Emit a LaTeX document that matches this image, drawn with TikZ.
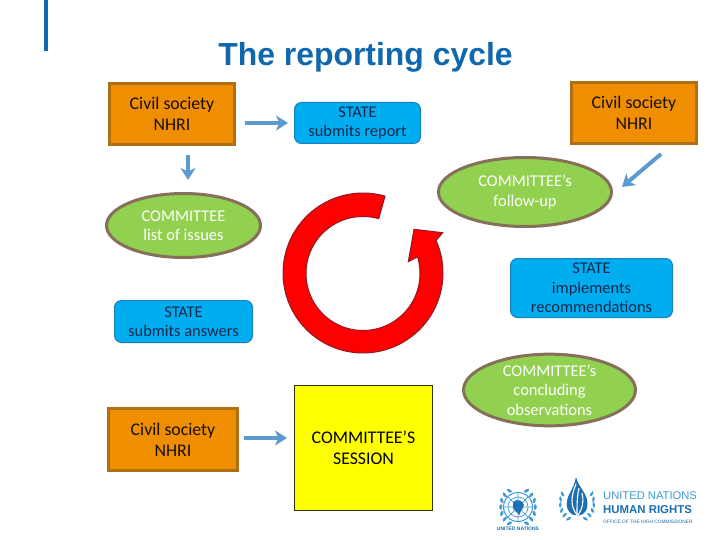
\documentclass[tikz,border=0pt]{standalone}
\usepackage{fontspec}
\setmainfont{Carlito}
\newfontfamily\titlefont{Liberation Sans}
\newfontfamily\logofont{Liberation Sans}
\usetikzlibrary{shapes.geometric,arrows.meta}
\definecolor{orangefill}{HTML}{EE8E00}
\definecolor{orangeedge}{HTML}{B06F14}
\definecolor{bluefill}{HTML}{00ADEF}
\definecolor{blueedge}{HTML}{1B7FC0}
\definecolor{greenfill}{HTML}{92D050}
\definecolor{greenedge}{HTML}{85705A}
\definecolor{arrowblue}{HTML}{5B9BD0}
\definecolor{titleblue}{HTML}{0F68AE}
\definecolor{ringedge}{HTML}{8E1C28}
\definecolor{ringred}{HTML}{FF0000}
\definecolor{sessionyellow}{HTML}{FFFF00}
\definecolor{navytext}{HTML}{14264E}
\definecolor{unblue}{HTML}{3D9AD6}
\definecolor{undark}{HTML}{1C6FB0}
\tikzset{
  lab/.style={font=\fontsize{16.4}{19.5}\selectfont,align=center},
  biglab/.style={font=\fontsize{17.8}{20.8}\selectfont,align=center},
  civil/.style={biglab,draw=orangeedge,fill=orangefill,line width=3pt,inner sep=0pt,text=black!90!orangefill},
  statebox/.style={lab,draw=blueedge,fill=bluefill,line width=1pt,rounded corners=7pt,inner sep=0pt,text=navytext},
  oval/.style={lab,ellipse,draw=greenedge,fill=greenfill,line width=3pt,inner sep=0pt,text=white},
  session/.style={biglab,draw=black!80!sessionyellow,fill=sessionyellow,line width=1pt,inner sep=0pt,text=black},
  flow/.style={draw=arrowblue,line width=4pt,-{Stealth[length=12pt,width=15pt,inset=3.5pt]}},
  wreathleaf/.style={fill=unblue,draw=none},
}
\begin{document}
\begin{tikzpicture}[x=1pt,y=-1pt]
\useasboundingbox (0,0) rectangle (720,540);
\fill[white] (0,0) rectangle (720,540);
\fill[titleblue] (44,0) rectangle (47.5,51);
\node[font=\titlefont\bfseries\fontsize{31.9}{34}\selectfont,text=titleblue,inner sep=0pt] (title) at (365.5,57) {The reporting cycle};

% cycle ring
\draw[draw=ringedge,fill=ringred,line width=1pt]
  plot[domain=74:384,samples=90] ({363+80*cos(\x)},{273-80*sin(\x)})
  -- (442.7,232.7) -- (414,229.3) -- (408.3,261.7) -- (416.7,257.3)
  -- plot[domain=376.6:74,samples=90] ({363+57*cos(\x)},{273.5-57*sin(\x)}) -- cycle;

\node[civil,minimum width=125pt,minimum height=61pt] (civilA) at (172,114) {Civil society\\NHRI};
\node[statebox,minimum width=126pt,minimum height=41pt] (stateA) at (357.5,123) {STATE\\submits report};
\node[oval,minimum width=154pt,minimum height=64pt] (ovalA) at (183.5,225.5) {COMMITTEE\\list of issues};
\node[civil,minimum width=125pt,minimum height=61pt] (civilB) at (634,113) {Civil society\\NHRI};
\node[oval,minimum width=173pt,minimum height=69pt] (ovalB) at (525,192) {COMMITTEE’s\\follow-up};
\node[statebox,minimum width=162pt,minimum height=59pt] (stateB) at (591.5,288) {STATE\\implements\\recommendations};
\node[statebox,minimum width=138pt,minimum height=42pt] (stateC) at (183.5,321.5) {STATE\\submits answers};
\node[oval,minimum width=172pt,minimum height=69pt] (ovalC) at (549.5,390) {COMMITTEE’s\\concluding\\observations};
\node[civil,minimum width=129pt,minimum height=62pt] (civilC) at (173,439.5) {Civil society\\NHRI};
\node[session,minimum width=138pt,minimum height=125pt] (sessionBox) at (363.5,447.5) {COMMITTEE’S\\SESSION};

\draw[flow] ([xshift=9pt,yshift=-9pt]civilA.east) -- ([xshift=-6pt]stateA.west);
\draw[flow] ([xshift=16pt,yshift=-9pt]civilA.south) -- ([xshift=4.5pt,yshift=12pt]ovalA.north);
\draw[flow] ([xshift=27pt,yshift=-9pt]civilB.south) -- ([xshift=9pt,yshift=5pt]ovalB.east);
\draw[flow] ([xshift=5pt,yshift=1.5pt]civilC.east) -- ([xshift=-7pt,yshift=9.5pt]sessionBox.west);

% UN emblem
\begin{scope}[shift={(518,507)}]
  \draw[unblue,line width=1pt] (0,0) circle (14.5);
  \draw[unblue,line width=.7pt] (0,0) circle (10) (0,0) circle (5);
  \draw[unblue,line width=.7pt] (-14.5,0) -- (14.5,0) (0,-14.5) -- (0,14.5) (-10,-10) -- (10,10) (-10,10) -- (10,-10);
  \fill[undark] (-5,-5) .. controls (0,-9) and (5,-6) .. (6,-2) .. controls (4,2) and (2,4) .. (2,8) .. controls (-2,5) and (-6,2) .. (-5,-5);
  \foreach \a in {-60,-40,...,60} {
    \fill[wreathleaf,shift={({18*cos(\a)},{18*sin(\a)})},rotate=\a] (-1.3,-3) .. controls (1.5,-2) and (1.5,2) .. (-1.3,3) .. controls (-2.6,1) and (-2.6,-1) .. (-1.3,-3);
    \fill[wreathleaf,shift={({-18*cos(\a)},{18*sin(\a)})},rotate=-\a] (1.3,-3) .. controls (-1.5,-2) and (-1.5,2) .. (1.3,3) .. controls (2.6,1) and (2.6,-1) .. (1.3,-3);
  }
\end{scope}
\node[font=\logofont\bfseries\fontsize{5}{5}\selectfont,text=undark,inner sep=0pt] (unname) at (518,529) {UNITED NATIONS};

% UN Human Rights flame and wreath
\begin{scope}[shift={(577,500)}]
  \fill[undark] (-1,-23) .. controls (1,-12) and (13,-6) .. (10,8) .. controls (8,15) and (2,16) .. (0,15) .. controls (-3,16) and (-8,14) .. (-10,7) .. controls (-12,-4) and (-3,-10) .. (-1,-23);
  \draw[white,line width=1.1pt] (0,15) .. controls (-7,6) and (-6,-4) .. (-1,-16);
  \draw[white,line width=1.1pt] (0,15) .. controls (0,6) and (0,-4) .. (2,-12);
  \draw[white,line width=1.1pt] (1,15) .. controls (6,8) and (7,0) .. (5,-7);
  \foreach \a in {-30,-12,...,60} {
    \fill[wreathleaf,shift={({17.5*cos(\a)},{3+17.5*sin(\a)})},rotate=\a] (-1.1,-3) .. controls (1.2,-2) and (1.2,2) .. (-1.1,3) .. controls (-2.2,1) and (-2.2,-1) .. (-1.1,-3);
    \fill[wreathleaf,shift={({-17.5*cos(\a)},{3+17.5*sin(\a)})},rotate=-\a] (1.1,-3) .. controls (-1.2,-2) and (-1.2,2) .. (1.1,3) .. controls (2.2,1) and (2.2,-1) .. (1.1,-3);
  }
\end{scope}
\node[font=\logofont\fontsize{11.2}{12}\selectfont,text=unblue,inner sep=0pt,anchor=west] (unhr) at (603,496) {UNITED NATIONS};
\node[font=\logofont\bfseries\fontsize{11.4}{12}\selectfont,text=undark,inner sep=0pt,anchor=west] (humanr) at (603,509.5) {HUMAN RIGHTS};
\node[font=\logofont\fontsize{4.8}{5}\selectfont,text=undark,inner sep=0pt,anchor=west] (office) at (603,522) {OFFICE OF THE HIGH COMMISSIONER};
\end{tikzpicture}
\end{document}
